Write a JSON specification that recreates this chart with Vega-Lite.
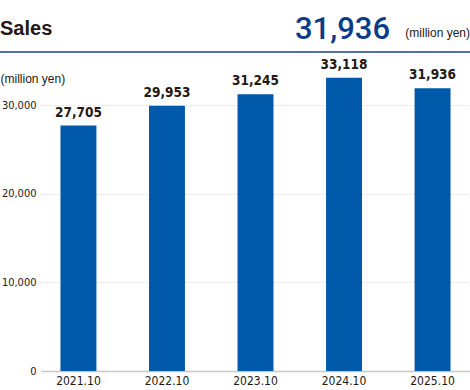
{
  "$schema": "https://vega.github.io/schema/vega-lite/v6.json",
  "autosize": "none",
  "width": 429,
  "height": 310,
  "padding": {"left": 41, "top": 61, "right": 0, "bottom": 19},
  "background": "white",
  "config": {"view": {"stroke": null}},
  "data": {"values": [
    {"period": "2021.10", "sales": 27705},
    {"period": "2022.10", "sales": 29953},
    {"period": "2023.10", "sales": 31245},
    {"period": "2024.10", "sales": 33118},
    {"period": "2025.10", "sales": 31936}
  ]},
  "layer": [
    {
      "mark": {"type": "bar", "color": "#0059a9"},
      "encoding": {
        "x": {
          "field": "period", "type": "ordinal", "sort": null,
          "scale": {"paddingInner": 0.594, "paddingOuter": 0.22},
          "axis": {
            "title": null, "ticks": false, "domainColor": "#c8c8c8", "domainWidth": 1.5,
            "labelAngle": 0, "labelFont": "DejaVu Sans Condensed, sans-serif",
            "labelFontSize": 12, "labelColor": "#231815", "labelPadding": 4
          }
        },
        "y": {
          "field": "sales", "type": "quantitative",
          "scale": {"domain": [0, 35000]},
          "axis": {
            "values": [0, 10000, 20000, 30000], "format": ",d", "ticks": false, "domain": false,
            "gridColor": "#dcdcdc", "gridDash": [2, 2], "gridWidth": 1,
            "labelFont": "DejaVu Sans Condensed, sans-serif",
            "labelFontSize": 11, "labelColor": "#231815", "labelPadding": 5,
            "title": "(million yen)", "titleAngle": 0, "titleAlign": "left", "titleBaseline": "middle",
            "titleX": -41, "titleY": 17, "titleFont": "Liberation Sans",
            "titleFontSize": 12, "titleFontWeight": "normal", "titleColor": "#231815"
          }
        }
      }
    },
    {
      "mark": {"type": "text", "baseline": "bottom", "dy": -6, "font": "DejaVu Sans Condensed, sans-serif", "fontSize": 13.5, "fontWeight": "bold", "color": "#231815"},
      "encoding": {
        "x": {"field": "period", "type": "ordinal", "sort": null},
        "y": {"field": "sales", "type": "quantitative"},
        "text": {"field": "sales", "type": "quantitative", "format": ","}
      }
    },
    {
      "data": {"values": [{"heading": "Sales", "latest": 31936, "unit": "(million yen)"}]},
      "layer": [
        {
          "mark": {"type": "text", "align": "left", "baseline": "alphabetic", "font": "Liberation Sans", "fontSize": 20, "fontWeight": "bold", "color": "#231815"},
          "encoding": {
            "x": {"value": -41},
            "y": {"value": -26},
            "text": {"field": "heading", "type": "nominal"}
          }
        },
        {
          "mark": {"type": "text", "align": "right", "baseline": "alphabetic", "dx": -80, "font": "Roboto", "fontSize": 31, "fontWeight": 500, "color": "#0c3c88"},
          "encoding": {
            "x": {"value": "width"},
            "y": {"value": -22},
            "text": {"field": "latest", "type": "quantitative", "format": ","}
          }
        },
        {
          "mark": {"type": "text", "align": "right", "baseline": "alphabetic", "font": "Liberation Sans", "fontSize": 12, "color": "#231815"},
          "encoding": {
            "x": {"value": "width"},
            "y": {"value": -24},
            "text": {"field": "unit", "type": "nominal"}
          }
        },
        {
          "mark": {"type": "rule", "color": "#1c3f8c", "strokeWidth": 1.5},
          "encoding": {
            "x": {"value": -41},
            "x2": {"value": "width"},
            "y": {"value": -9}
          }
        }
      ]
    }
  ]
}
